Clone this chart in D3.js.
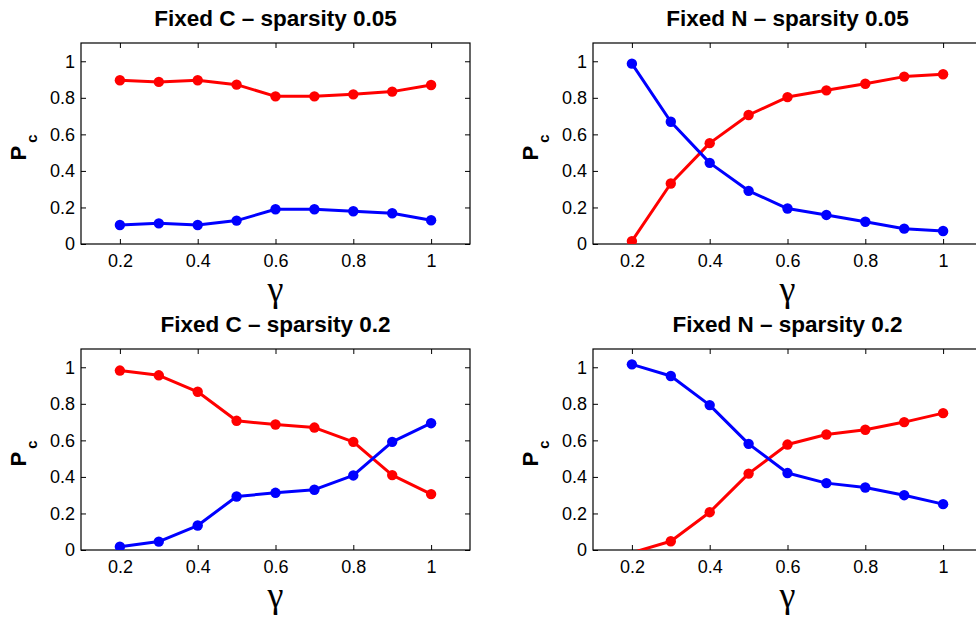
<!DOCTYPE html>
<html>
<head>
<meta charset="utf-8">
<script src="https://cdn.jsdelivr.net/npm/d3@7"></script>
<style>
	body { margin: 0; background: #fff; }
	svg { display: block; font-family: 'Liberation Sans', Arial, Helvetica, sans-serif; }
	.axis text { font-size: 18px; fill: #000; }
	.axis path, .axis line { stroke: #000; }
	.title { font-size: 22.5px; font-weight: bold; }
	.xlabel { font-family: 'Liberation Serif', 'Times New Roman', serif; font-size: 36px; }
</style>
</head>
<body>
<div id="chart"></div>
<script>
// x values shared by all panels
const gammas = [0.2, 0.3, 0.4, 0.5, 0.6, 0.7, 0.8, 0.9, 1.0];

const xTicks = [0.2, 0.4, 0.6, 0.8, 1];
const xTickLabels = ['0.2', '0.4', '0.6', '0.8', '1'];
const yTicks = [0, 0.2, 0.4, 0.6, 0.8, 1];
const yTickLabels = ['0', '0.2', '0.4', '0.6', '0.8', '1'];

const titles = [
	'Fixed C \u2013 sparsity 0.05',
	'Fixed N \u2013 sparsity 0.05',
	'Fixed C \u2013 sparsity 0.2',
	'Fixed N \u2013 sparsity 0.2'
];

// P_c, red curve, one array per panel
const redFixedC005 = [0.896, 0.887, 0.896, 0.872, 0.808, 0.808, 0.819, 0.834, 0.870];
const redFixedN005 = [0.016, 0.331, 0.552, 0.706, 0.804, 0.841, 0.877, 0.916, 0.929];
const redFixedC02 = [0.982, 0.956, 0.866, 0.707, 0.687, 0.670, 0.592, 0.410, 0.306];
const redFixedN02 = [-0.015, 0.048, 0.207, 0.418, 0.577, 0.632, 0.658, 0.700, 0.749];

// P_c, blue curve
const blueFixedC005 = [0.104, 0.113, 0.104, 0.128, 0.190, 0.190, 0.179, 0.168, 0.130];
const blueFixedN005 = [0.987, 0.669, 0.444, 0.291, 0.194, 0.159, 0.122, 0.084, 0.071];
const blueFixedC02 = [0.018, 0.046, 0.134, 0.293, 0.313, 0.330, 0.408, 0.592, 0.694];
const blueFixedN02 = [1.016, 0.952, 0.793, 0.581, 0.421, 0.366, 0.342, 0.300, 0.251];

const panels = [
	{ title: titles[0], red: redFixedC005, blue: blueFixedC005, left: 81, top: 43 },
	{ title: titles[1], red: redFixedN005, blue: blueFixedN005, left: 593, top: 43 },
	{ title: titles[2], red: redFixedC02, blue: blueFixedC02, left: 81, top: 349 },
	{ title: titles[3], red: redFixedN02, blue: blueFixedN02, left: 593, top: 349 }
];

const width = 976, height = 617;
const plotW = 389, plotH = 201;

const svg = d3.select('#chart')
	.append('svg')
	.attr('width', width)
	.attr('height', height);

const x = d3.scaleLinear().domain([0.1, 1.1]).range([0, plotW]);
const y = d3.scaleLinear().domain([0, 1.1]).range([plotH, 0]);

panels.forEach((p, i) => {
	const g = svg.append('g')
		.attr('transform', `translate(${p.left},${p.top})`);

	g.append('clipPath')
		.attr('id', `clip-${i}`)
		.append('rect')
		.attr('width', plotW)
		.attr('height', plotH);

	// axes: labelled bottom/left, tick-only top/right, ticks pointing in
	g.append('g')
		.attr('class', 'axis')
		.attr('transform', `translate(0,${plotH})`)
		.call(d3.axisBottom(x).tickValues(xTicks).tickFormat((d, k) => xTickLabels[k])
			.tickSizeInner(-5).tickSizeOuter(0).tickPadding(10))
		.call(a => a.select('.domain').remove());

	g.append('g')
		.attr('class', 'axis')
		.call(d3.axisTop(x).tickValues(xTicks).tickFormat('')
			.tickSizeInner(-5).tickSizeOuter(0))
		.call(a => a.select('.domain').remove());

	g.append('g')
		.attr('class', 'axis')
		.call(d3.axisLeft(y).tickValues(yTicks).tickFormat((d, k) => yTickLabels[k])
			.tickSizeInner(-5).tickSizeOuter(0).tickPadding(6))
		.call(a => a.select('.domain').remove());

	g.append('g')
		.attr('class', 'axis')
		.attr('transform', `translate(${plotW},0)`)
		.call(d3.axisRight(y).tickValues(yTicks).tickFormat('')
			.tickSizeInner(-5).tickSizeOuter(0))
		.call(a => a.select('.domain').remove());

	g.append('rect')
		.attr('width', plotW)
		.attr('height', plotH)
		.attr('fill', 'none')
		.attr('stroke', '#000')
		.attr('stroke-width', 1.2);

	const line = d3.line()
		.x((d, k) => x(gammas[k]))
		.y(d => y(d));

	const series = [
		{ values: p.red, color: '#ff0000' },
		{ values: p.blue, color: '#0000ff' }
	];

	series.forEach(s => {
		const sg = g.append('g')
			.attr('clip-path', `url(#clip-${i})`);

		sg.append('path')
			.datum(s.values)
			.attr('fill', 'none')
			.attr('stroke', s.color)
			.attr('stroke-width', 3)
			.attr('stroke-linejoin', 'round')
			.attr('d', line);

		// points outside the y limits are not marked
		sg.selectAll('circle')
			.data(s.values.map((v, k) => ({ g: gammas[k], v })).filter(d => d.v >= 0 && d.v <= 1.1))
			.enter()
			.append('circle')
			.attr('cx', d => x(d.g))
			.attr('cy', d => y(d.v))
			.attr('r', 5.2)
			.attr('fill', s.color);
	});

	g.append('text')
		.attr('class', 'title')
		.attr('x', plotW / 2)
		.attr('y', -17)
		.attr('text-anchor', 'middle')
		.text(p.title);

	// x label
	g.append('text')
		.attr('class', 'xlabel')
		.attr('x', plotW / 2)
		.attr('y', plotH + 57)
		.attr('text-anchor', 'middle')
		.text('\u03b3');

	// y label P_c, rotated
	const yl = g.append('text')
		.attr('transform', `translate(${-55},${plotH / 2 + 4}) rotate(-90)`)
		.attr('text-anchor', 'middle')
		.style('font-size', '22px')
		.style('font-weight', 'bold');
	yl.append('tspan').text('P');
	yl.append('tspan')
		.attr('dx', 3)
		.attr('dy', 11)
		.style('font-size', '15px')
		.text('c');
});
</script>
</body>
</html>
